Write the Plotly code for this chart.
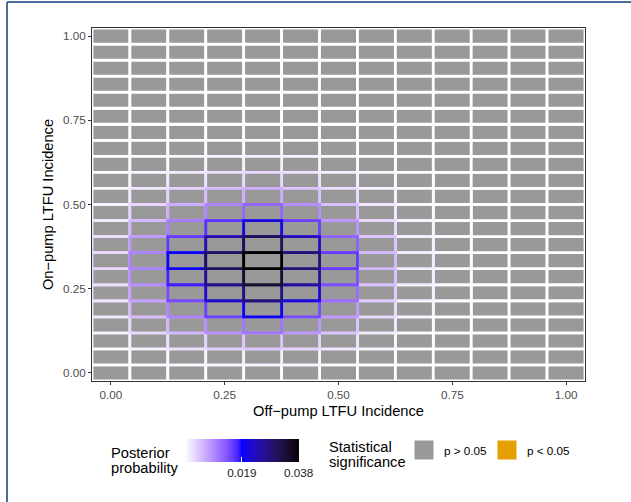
import plotly.graph_objects as go

# ---------------- data ----------------
off_pump_incidence = [0/12, 1/12, 2/12, 3/12, 4/12, 5/12, 6/12, 7/12, 8/12, 9/12, 10/12, 11/12, 12/12]
on_pump_incidence = [0/21, 1/21, 2/21, 3/21, 4/21, 5/21, 6/21, 7/21, 8/21, 9/21, 10/21,
                     11/21, 12/21, 13/21, 14/21, 15/21, 16/21, 17/21, 18/21, 19/21, 20/21, 21/21]

# posterior probability, one row per on-pump value (bottom to top), one column per off-pump value
posterior = [
    [0.0000, 0.0000, 0.0001, 0.0001, 0.0001, 0.0001, 0.0000, 0.0000, 0.0000, 0.0000, 0, 0, 0],
    [0.0001, 0.0003, 0.0006, 0.0009, 0.0011, 0.0009, 0.0005, 0.0002, 0.0000, 0.0000, 0, 0, 0],
    [0.0004, 0.0012, 0.0024, 0.0036, 0.0046, 0.0034, 0.0019, 0.0007, 0.0002, 0.0000, 0, 0, 0],
    [0.0009, 0.0031, 0.0059, 0.0091, 0.0114, 0.0086, 0.0048, 0.0017, 0.0005, 0.0001, 0, 0, 0],
    [0.0016, 0.0054, 0.0103, 0.0158, 0.0198, 0.0148, 0.0083, 0.0030, 0.0008, 0.0002, 0, 0, 0],
    [0.0023, 0.0077, 0.0149, 0.0228, 0.0285, 0.0214, 0.0120, 0.0043, 0.0011, 0.0003, 0, 0, 0],
    [0.0027, 0.0093, 0.0178, 0.0274, 0.0342, 0.0257, 0.0144, 0.0051, 0.0014, 0.0004, 0, 0, 0],
    [0.0030, 0.0103, 0.0198, 0.0304, 0.0381, 0.0285, 0.0160, 0.0057, 0.0015, 0.0004, 0, 0, 0],
    [0.0025, 0.0084, 0.0162, 0.0249, 0.0312, 0.0234, 0.0131, 0.0047, 0.0012, 0.0003, 0, 0, 0],
    [0.0017, 0.0057, 0.0109, 0.0167, 0.0209, 0.0157, 0.0088, 0.0031, 0.0008, 0.0002, 0, 0, 0],
    [0.0010, 0.0034, 0.0065, 0.0100, 0.0125, 0.0094, 0.0053, 0.0019, 0.0005, 0.0001, 0, 0, 0],
    [0.0005, 0.0018, 0.0034, 0.0052, 0.0065, 0.0048, 0.0027, 0.0010, 0.0003, 0.0001, 0, 0, 0],
    [0.0002, 0.0008, 0.0016, 0.0024, 0.0030, 0.0023, 0.0013, 0.0005, 0.0001, 0.0000, 0, 0, 0],
    [0.0001, 0.0003, 0.0006, 0.0009, 0.0011, 0.0009, 0.0005, 0.0002, 0.0000, 0.0000, 0, 0, 0],
    [0.0000, 0.0001, 0.0002, 0.0003, 0.0004, 0.0003, 0.0002, 0.0001, 0.0000, 0.0000, 0, 0, 0],
    [0, 0, 0, 0, 0, 0, 0, 0, 0, 0, 0, 0, 0],
    [0, 0, 0, 0, 0, 0, 0, 0, 0, 0, 0, 0, 0],
    [0, 0, 0, 0, 0, 0, 0, 0, 0, 0, 0, 0, 0],
    [0, 0, 0, 0, 0, 0, 0, 0, 0, 0, 0, 0, 0],
    [0, 0, 0, 0, 0, 0, 0, 0, 0, 0, 0, 0, 0],
    [0, 0, 0, 0, 0, 0, 0, 0, 0, 0, 0, 0, 0],
    [0, 0, 0, 0, 0, 0, 0, 0, 0, 0, 0, 0, 0],
]
# all cells are non-significant (p > 0.05)
significance_labels = ["p > 0.05", "p < 0.05"]
significance_colors = ["#999999", "#E69F00"]

axis_ticks = [0, 0.25, 0.5, 0.75, 1.0]
axis_ticktext = ["0.00", "0.25", "0.50", "0.75", "1.00"]
cbar_ticks = [0.019, 0.038]
cbar_ticktext = ["0.019", "0.038"]

# ---------------- colour scale (Lab interpolation white -> blue -> black) ----------------
def _srgb_to_lin(c):
    c = c / 255.0
    return c / 12.92 if c <= 0.04045 else ((c + 0.055) / 1.055) ** 2.4

def _lin_to_srgb(c):
    c = max(0.0, min(1.0, c))
    v = 12.92 * c if c <= 0.0031308 else 1.055 * c ** (1 / 2.4) - 0.055
    return int(round(max(0, min(1, v)) * 255))

_Xn, _Yn, _Zn = 0.95047, 1.0, 1.08883

def _f(t):
    return t ** (1 / 3) if t > (6 / 29) ** 3 else t / (3 * (6 / 29) ** 2) + 4 / 29

def _finv(t):
    return t ** 3 if t > 6 / 29 else 3 * (6 / 29) ** 2 * (t - 4 / 29)

def rgb_to_lab(rgb):
    r, g, b = [_srgb_to_lin(v) for v in rgb]
    X = 0.4124 * r + 0.3576 * g + 0.1805 * b
    Y = 0.2126 * r + 0.7152 * g + 0.0722 * b
    Z = 0.0193 * r + 0.1192 * g + 0.9505 * b
    fx, fy, fz = _f(X / _Xn), _f(Y / _Yn), _f(Z / _Zn)
    return (116 * fy - 16, 500 * (fx - fy), 200 * (fy - fz))

def lab_to_rgb(lab):
    L, a, b = lab
    fy = (L + 16) / 116
    fx = fy + a / 500
    fz = fy - b / 200
    X, Y, Z = _Xn * _finv(fx), _Yn * _finv(fy), _Zn * _finv(fz)
    r = 3.2406 * X - 1.5372 * Y - 0.4986 * Z
    g = -0.9689 * X + 1.8758 * Y + 0.0415 * Z
    bb = 0.0557 * X - 0.2040 * Y + 1.0570 * Z
    return (_lin_to_srgb(r), _lin_to_srgb(g), _lin_to_srgb(bb))

LOW, MID, HIGH = rgb_to_lab((255, 255, 255)), rgb_to_lab((0, 0, 255)), rgb_to_lab((0, 0, 0))
vmax = max(max(r) for r in posterior)
vmin = 0.0
vmid = vmax / 2

def colour_at(t):
    # t in [0,1], 0.5 = midpoint
    if t <= 0.5:
        a, b, u = LOW, MID, t / 0.5
    else:
        a, b, u = MID, HIGH, (t - 0.5) / 0.5
    lab = tuple(a[i] + (b[i] - a[i]) * u for i in range(3))
    r, g, bl = lab_to_rgb(lab)
    return f"rgb({r},{g},{bl})"

def value_to_t(v):
    if v <= vmid:
        return 0.5 * (v - vmin) / (vmid - vmin)
    return 0.5 + 0.5 * (v - vmid) / (vmax - vmid)

n_stops = 40
colorscale = [[i / n_stops, colour_at(i / n_stops)] for i in range(n_stops + 1)]

# ---------------- figure ----------------
FONT = "Liberation Sans, Arial, Helvetica, sans-serif"
TITLE_SIZE = 14.67
TEXT_SIZE = 11.7
fig = go.Figure()

dx = (off_pump_incidence[1] - off_pump_incidence[0]) / 2
dy = (on_pump_incidence[1] - on_pump_incidence[0]) / 2

cells = []
for j, yv in enumerate(on_pump_incidence):
    for i, xv in enumerate(off_pump_incidence):
        cells.append((posterior[j][i], xv, yv))
cells.sort(key=lambda c: c[0])

shapes = []
for v, xv, yv in cells:
    shapes.append(dict(
        type="rect", xref="x", yref="y", layer="below",
        x0=xv - dx, x1=xv + dx, y0=yv - dy, y1=yv + dy,
        fillcolor=significance_colors[0],
        line=dict(color=colour_at(value_to_t(v)), width=2.8),
    ))

# invisible markers carrying the colour scale (for the colour bar)
fig.add_trace(go.Scatter(
    x=[c[1] for c in cells], y=[c[2] for c in cells],
    mode="markers",
    marker=dict(
        color=[c[0] for c in cells], colorscale=colorscale, cmin=vmin, cmax=vmax,
        size=10, opacity=0,
        showscale=True,
        colorbar=dict(
            orientation="h", lenmode="pixels", len=114, thickness=23,
            x=(185 - 92) / 493, xanchor="left", xpad=0,
            y=(381 - 439) / 353, yanchor="top", ypad=0,
            outlinewidth=0,
            tickvals=cbar_ticks, ticktext=cbar_ticktext,
            ticks="inside", ticklen=5, tickcolor="white", tickwidth=1,
            tickfont=dict(family=FONT, size=TEXT_SIZE, color="#1a1a1a"),
        ),
    ),
    hovertemplate="Off-pump %{x:.3f}<br>On-pump %{y:.3f}<br>Posterior %{marker.color:.4f}<extra></extra>",
    showlegend=False,
))

for lab, col in zip(significance_labels, significance_colors):
    fig.add_trace(go.Scatter(
        x=[None], y=[None], mode="markers", name=lab,
        marker=dict(symbol="square", size=16, color=col, line=dict(color=col, width=3)),
        showlegend=True,
    ))

# outer frame lines seen in the picture
shapes.append(dict(type="line", xref="paper", yref="paper",
                   x0=(7 - 92) / 493, x1=(631 - 92) / 493, y0=(381 - 2) / 353, y1=(381 - 2) / 353,
                   line=dict(color="#4a6e9c", width=2)))
shapes.append(dict(type="line", xref="paper", yref="paper",
                   x0=(7 - 92) / 493, x1=(7 - 92) / 493, y0=(381 - 2) / 353, y1=(381 - 502) / 353,
                   line=dict(color="#4a6e9c", width=2)))

def title_line(text, x_px, y_px):
    return dict(
        text=text, xref="paper", yref="paper",
        x=(x_px - 92) / 493, y=(381 - y_px) / 353, xanchor="left", yanchor="middle",
        align="left", showarrow=False,
        font=dict(family=FONT, size=TITLE_SIZE, color="black"),
    )

fig.update_layout(
    width=631, height=502,
    margin=dict(l=92, r=46, t=28, b=121, pad=0),
    paper_bgcolor="white", plot_bgcolor="white",
    font=dict(family=FONT, color="black"),
    shapes=shapes,
    xaxis=dict(
        range=[-dx, 1 + dx], tickvals=axis_ticks, ticktext=axis_ticktext,
        showgrid=False, zeroline=False,
        showline=True, mirror=True, linecolor="#333333", linewidth=1,
        ticks="outside", ticklen=3, tickcolor="#333333",
        tickfont=dict(family=FONT, size=TEXT_SIZE, color="#4d4d4d"),
        title=dict(text="Off\u2212pump LTFU Incidence", font=dict(family=FONT, size=TITLE_SIZE, color="black"), standoff=5),
    ),
    yaxis=dict(
        range=[-dy, 1 + dy], tickvals=axis_ticks, ticktext=axis_ticktext,
        showgrid=False, zeroline=False,
        showline=True, mirror=True, linecolor="#333333", linewidth=1,
        ticks="outside", ticklen=3, tickcolor="#333333",
        tickfont=dict(family=FONT, size=TEXT_SIZE, color="#4d4d4d"),
        title=dict(text="On\u2212pump LTFU Incidence", font=dict(family=FONT, size=TITLE_SIZE, color="black"), standoff=5),
    ),
    legend=dict(
        orientation="h",
        x=(404 - 92) / 493, xanchor="left",
        y=(381 - 450) / 353, yanchor="middle",
        entrywidth=38, entrywidthmode="pixels",
        font=dict(family=FONT, size=TEXT_SIZE, color="black"),
        bgcolor="rgba(0,0,0,0)", borderwidth=0,
    ),
    annotations=[
        title_line("Posterior", 109, 453),
        title_line("probability", 109, 468),
        title_line("Statistical", 327, 447),
        title_line("significance", 327, 462),
    ],
)

fig.write_html("out.html")
